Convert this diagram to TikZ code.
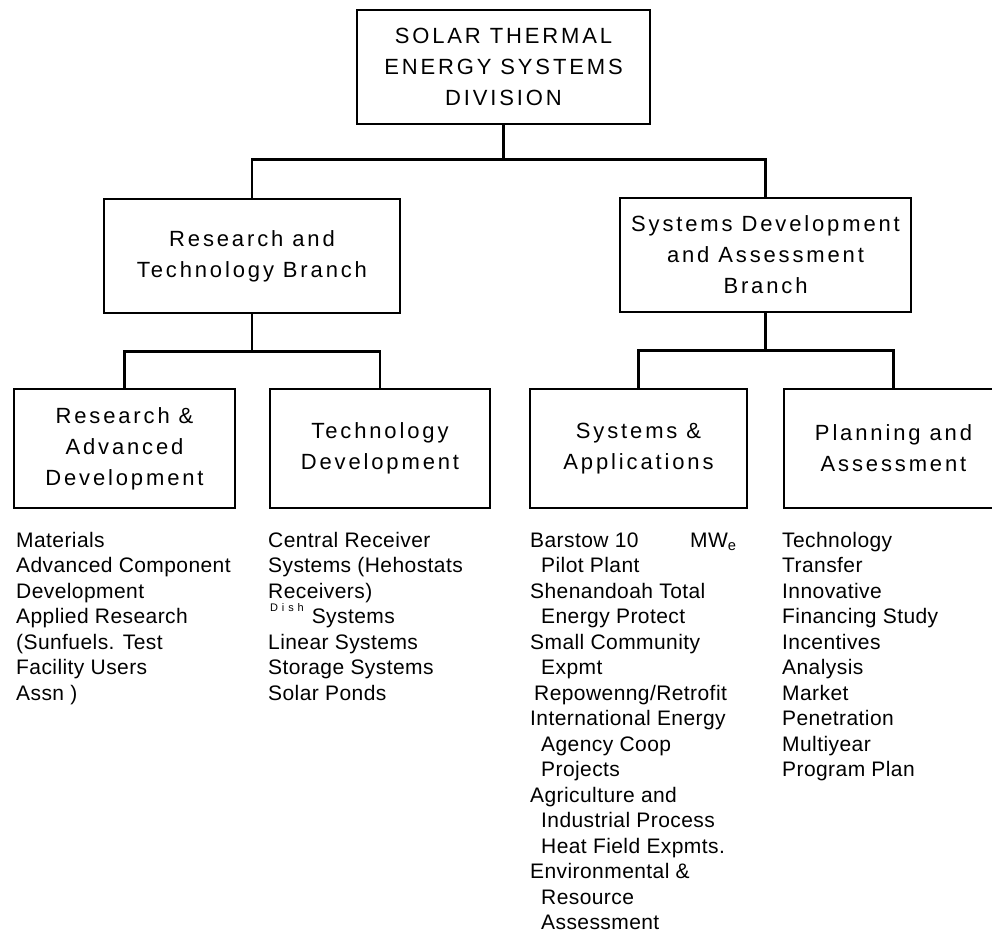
\documentclass[tikz,border=0pt]{standalone}
\usepackage{fontspec}
\setmainfont{Liberation Sans}
\newfontfamily\boxfont{Liberation Sans}[LetterSpace=13]
\newfontfamily\listfont{Liberation Sans}[LetterSpace=2]
\newcommand{\listcol}[1]{\begin{minipage}[t]{240pt}\listfont\fontsize{21}{25.5}\selectfont\raggedright\setlength{\parindent}{0pt}#1\end{minipage}}
\newcommand{\myind}{\hspace*{11pt}}
\tikzset{
  unitbox/.style={draw, line width=2.6pt, rectangle, inner sep=0pt, align=center,
    font=\boxfont\fontsize{22}{31}\selectfont},
  conn/.style={line width=2.6pt, line cap=rect},
  listnode/.style={anchor=base west, inner sep=0pt}
}
\begin{document}
\begin{tikzpicture}[x=1pt,y=-1pt]
\useasboundingbox (0,0) rectangle (992,933);
\clip (0,0) rectangle (992,933);

% boxes
\node[unitbox, minimum width=293pt, minimum height=114pt] (top) at (503.5,67)
  {SOLAR THERMAL\\ENERGY SYSTEMS\\DIVISION};
\node[unitbox, minimum width=296pt, minimum height=114pt] (ml) at (252,256)
  {Research and\\Technology Branch};
\node[unitbox, minimum width=291pt, minimum height=114pt] (mr) at (765.5,255)
  {Systems Development\\and Assessment\\Branch};
\node[unitbox, minimum width=221pt, minimum height=119pt] (b1) at (124.5,448.5)
  {Research \&\\Advanced\\Development};
\node[unitbox, minimum width=220pt, minimum height=119pt] (b2) at (380,448.5)
  {Technology\\Development};
\node[unitbox, minimum width=217pt, minimum height=119pt] (b3) at (638.5,448.5)
  {Systems \&\\Applications};
\node[unitbox, minimum width=219pt, minimum height=119pt] (b4) at (893.5,448.5)
  {Planning and\\Assessment};

% connectors
\draw[conn] (top.south) -- ++(0,34) coordinate (j0);
\draw[conn] (ml.north) |- (j0) -| (mr.north);
\draw[conn] (ml.south) -- ++(0,37) coordinate (j1);
\draw[conn] (b1.north) |- (j1) -| (b2.north);
\draw[conn] (mr.south) -- ++(0,37) coordinate (j2);
\draw[conn] (b3.north) |- (j2) -| (b4.north);

% lists
\node[listnode] (l1) at (16,547) {\listcol{%
Materials\\
Advanced Component\\
Development\\
Applied Research\\
(Sunfuels. Test\\
Facility Users\\
Assn )}};

\node[listnode] (l2) at (268,547) {\listcol{%
Central Receiver\\
Systems (Hehostats\\
Receivers)\\
\hspace*{2pt}\raisebox{12pt}{\fontsize{11}{11}\selectfont\addfontfeature{LetterSpace=35}Dish}\hspace{8pt}Systems\\
Linear Systems\\
Storage Systems\\
Solar Ponds}};

\node[listnode] (l3) at (530,547) {\listcol{%
\makebox[160pt][l]{Barstow 10}MW\textsubscript{e}\\
\myind Pilot Plant\\
Shenandoah Total\\
\myind Energy Protect\\
Small Community\\
\myind Expmt\\
\hspace*{4pt}Repowenng/Retrofit\\
International Energy\\
\myind Agency Coop\\
\myind Projects\\
Agriculture and\\
\myind Industrial Process\\
\myind Heat Field Expmts.\\
Environmental \&\\
\myind Resource\\
\myind Assessment}};

\node[listnode] (l4) at (782,547) {\listcol{%
Technology\\
Transfer\\
Innovative\\
Financing Study\\
Incentives\\
Analysis\\
Market\\
Penetration\\
Multiyear\\
Program Plan}};
\end{tikzpicture}
\end{document}
